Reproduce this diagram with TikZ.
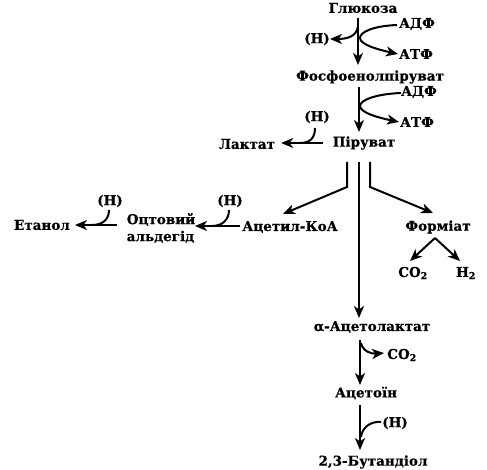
\documentclass[tikz,border=0pt]{standalone}
\usepackage{fontspec}
\setmainfont{DejaVu Serif}
\newfontfamily\heavyfont{DejaVu Serif Bold}[FakeBold=0.6]
\usetikzlibrary{arrows.meta}
\begin{document}
\begin{tikzpicture}[x=1pt,y=-1pt,
  lbl/.style={font=\heavyfont\fontsize{13.5}{17}\selectfont, inner sep=0pt},
  arr/.style={line width=2pt, -{Stealth[length=12pt,width=10pt,inset=3.5pt]}},
  ln/.style={line width=2pt}]
\useasboundingbox (0,0) rectangle (487,470);
% nodes
\node[lbl] (glu) at (363,8) {Глюкоза};
\node[lbl] (adf1) at (417,24) {АДФ};
\node[lbl] (h1) at (317,39) {(H)};
\node[lbl] (atf1) at (416,54) {АТФ};
\node[lbl] (fos) at (370,77) {Фосфоенолпіруват};
\node[lbl] (adf2) at (419,92) {АДФ};
\node[lbl] (atf2) at (417,122) {АТФ};
\node[lbl] (pir) at (364,143) {Піруват};
\node[lbl] (lak) at (247,144) {Лактат};
\node[lbl] (h2) at (317,117) {(H)};
\node[lbl] (acoa) at (290,227) {Ацетил-КоА};
\node[lbl] (form) at (438,227) {Форміат};
\node[lbl] (co2a) at (413,273) {CO\textsubscript{2}};
\node[lbl] (h2g) at (466,273) {H\textsubscript{2}};
\node[lbl, align=left] (ald) at (161,228) {Оцтовий\\альдегід};
\node[lbl] (h3) at (110,201) {(H)};
\node[lbl] (h4) at (230,201) {(H)};
\node[lbl] (eta) at (42,225) {Етанол};
\node[lbl] (aal) at (372,327) {α-Ацетолактат};
\node[lbl] (co2b) at (402,355) {CO\textsubscript{2}};
\node[lbl] (act) at (366,393) {Ацетоїн};
\node[lbl] (h5) at (395,423) {(H)};
\node[lbl] (but) at (373,462) {2,3-Бутандіол};
% helper coordinates
\coordinate (k1) at (347,187);
\coordinate (k2) at (370,187);
\coordinate (fa) at (435,238);
% main chain
\draw[arr] (358,18) -- (358,65);
\draw[arr] (358,26) .. controls (357,37) and (346,39) .. (h1.east);
\draw[arr] (397,25) .. controls (373,26) and (360,32) .. (360,38)
  .. controls (360,45) and (380,50) .. (398,54);
\draw[arr] (359,87) -- (359,132);
\draw[arr] (401,93) .. controls (376,94) and (360,100) .. (360,106)
  .. controls (360,113) and (380,118) .. (399,122);
% lactate
\draw[arr, shorten >=6pt] (323,143) -- (lak.east |- 0,143);
\draw[ln] (315,128) .. controls (315,138) and (310,143) .. (300,143);
% three branches
\draw[arr] (347,162) -- (k1) -- (283,214);
\draw[arr] (370,162) -- (k2) -- (433,213);
\draw[ln] (359,162) -- (359,305);
\draw[arr] (359,300) -- (359,318);
% formate
\draw[arr] (fa) -- (410,261);
\draw[arr] (fa) -- (460,261);
% acetyl-CoA -> aldehyde -> ethanol
\draw[arr] (240,226) -- (195,226);
\draw[ln] (229,210) .. controls (229,220) and (222,226) .. (212,226);
\draw[arr] (117,225) -- (75,225);
\draw[ln] (109,210) .. controls (109,220) and (102,225) .. (92,225);
% acetolactate -> acetoin -> butanediol
\draw[arr] (360,340) -- (360,385);
\draw[arr] (361,343) .. controls (363,352) and (372,354) .. (384,353);
\draw[arr] (360,405) -- (360,450);
\draw[ln] (381,422) .. controls (370,421) and (362,428) .. (361,437);
\end{tikzpicture}
\end{document}
